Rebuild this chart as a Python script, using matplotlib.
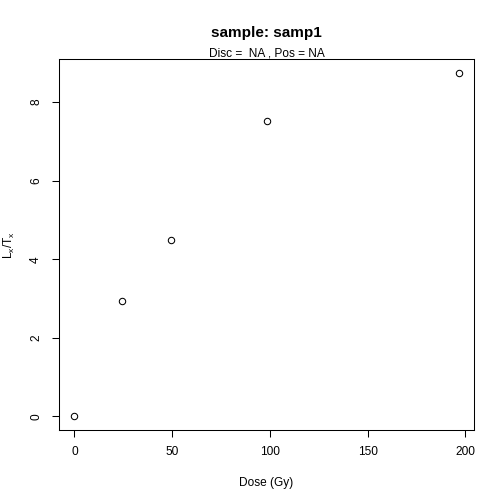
import matplotlib
matplotlib.use("Agg")
import matplotlib.pyplot as plt

plt.rcParams['font.family'] = ['Liberation Sans', 'DejaVu Sans']
plt.rcParams['mathtext.fontset'] = 'custom'
plt.rcParams['mathtext.rm'] = 'Liberation Sans'

dose = [0, 24.6, 49.2, 98.3, 196.6]
lxtx = [0.0, 2.93, 4.48, 7.53, 8.75]
xticks = [0, 50, 100, 150, 200]
yticks = [0, 2, 4, 6, 8]
title = "sample: samp1"
subtitle = "Disc =  NA , Pos = NA"

fig = plt.figure(figsize=(5.04, 5.04), dpi=100)
ax = fig.add_axes([59/504, 1-430/504, (474-59)/504, (430-59)/504])

ax.plot(dose, lxtx, linestyle='none', marker='o', markersize=4.6,
        markerfacecolor='none', markeredgecolor='black', markeredgewidth=0.75)

def ext(v):
    lo, hi = min(v), max(v)
    d = (hi - lo) * 0.04
    return lo - d, hi + d

ax.set_xlim(*ext(dose))
ax.set_ylim(*ext(lxtx))
ax.set_xticks(xticks)
ax.set_yticks(yticks)
ax.set_xticklabels([str(t) for t in xticks])
ax.set_yticklabels([str(t) for t in yticks], rotation=90, va='center')

for s in ax.spines.values():
    s.set_linewidth(0.75)
    s.set_color('black')
ax.tick_params(axis='both', direction='out', length=5.2, width=0.75,
               labelsize=8.6, colors='black')
ax.tick_params(axis='x', pad=6.0)
ax.tick_params(axis='y', pad=7.0)

fig.text(266.5/504, 1-486/504, "Dose (Gy)", ha='center', va='baseline',
         fontsize=8.6)
fig.text(9/504, 1-244.5/504, r"$\mathregular{L_x/T_x}$", ha='center',
         va='center', rotation=90, fontsize=8.6)

fig.text(266.5/504, 1-37/504, title, ha='center', va='baseline',
         fontsize=11.0, fontweight='bold')
fig.text(266.5/504, 1-56.5/504, subtitle, ha='center', va='baseline',
         fontsize=8.6)

fig.savefig("out.png", dpi=100)
